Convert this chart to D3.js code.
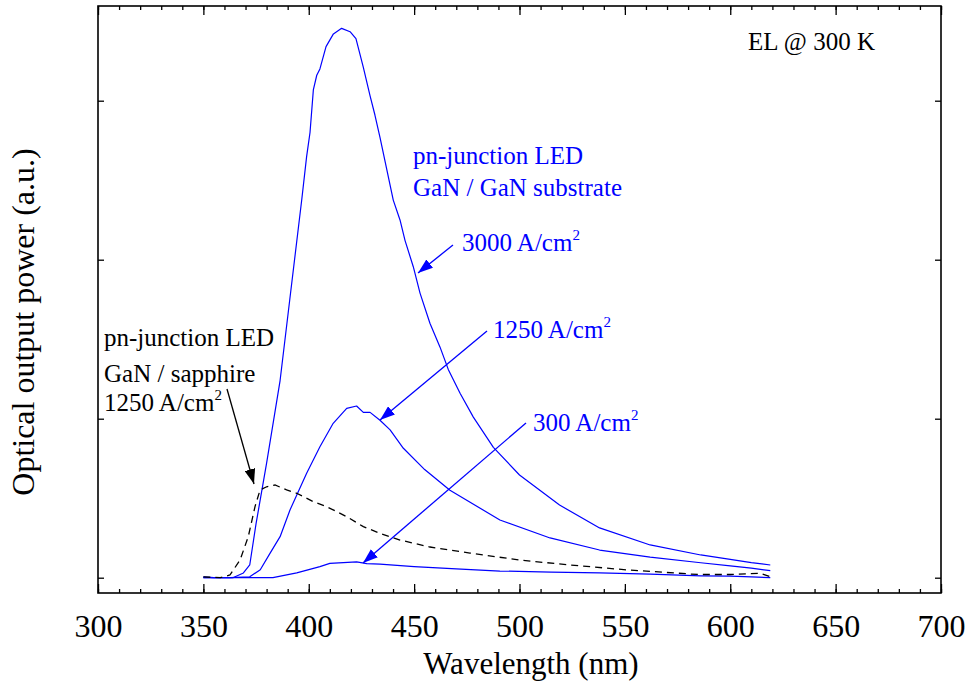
<!DOCTYPE html>
<html>
<head>
<meta charset="utf-8">
<script src="https://cdn.jsdelivr.net/npm/d3@7"></script>
<style>
  body { margin: 0; background: #fff; }
  svg text { font-family: "Liberation Serif", Tinos, "Times New Roman", Times, serif; }
</style>
</head>
<body>
<div id="chart"></div>
<script>
// data (wavelength nm, output a.u.)
var wl3000 = [350, 355, 360, 364, 369, 372, 375, 380, 386.4, 391, 396.7, 399, 400.6, 402.2, 403.8, 405.3, 408.2, 411.7, 415.6, 419.6, 422.4, 425.9, 429.1, 431.4, 433.8, 440.1, 443.3, 445.7, 449.6, 452.8, 457.5, 462.3, 466.2, 471.8, 478.1, 487.6, 500, 519, 538, 562, 586, 600, 610, 619];
var val3000 = [0.005, 0, 0, 0, 0.03, 0.08, 0.34, 0.72, 1.24, 1.75, 2.38, 2.65, 2.8, 3.07, 3.16, 3.2, 3.34, 3.42, 3.455, 3.434, 3.39, 3.21, 3.03, 2.91, 2.77, 2.375, 2.25, 2.12, 1.956, 1.79, 1.6, 1.45, 1.31, 1.16, 1.01, 0.82, 0.646, 0.457, 0.313, 0.206, 0.143, 0.115, 0.095, 0.08];

var wl1250 = [350, 362.6, 372, 377, 381.6, 386.4, 391.1, 399, 405.3, 411.6, 418, 422.7, 425.9, 429.1, 433.8, 438.6, 444.9, 455, 467, 490.7, 514.5, 538, 562, 586, 600, 610, 619];
var val1250 = [0, 0, 0.006, 0.05, 0.153, 0.258, 0.426, 0.657, 0.824, 0.971, 1.065, 1.08, 1.04, 1.04, 0.99, 0.93, 0.814, 0.68, 0.55, 0.363, 0.25, 0.174, 0.13, 0.094, 0.075, 0.06, 0.044];

var wl300 = [350, 362.6, 383, 394.3, 405.3, 410, 416.4, 422.7, 427.5, 433.8, 450, 470, 490.7, 515, 538, 562, 586, 600, 610, 619];
var val300 = [0, 0, 0, 0.03, 0.07, 0.09, 0.095, 0.1, 0.088, 0.086, 0.07, 0.055, 0.042, 0.035, 0.03, 0.022, 0.012, 0.01, 0.005, 0];

var wlSapph = [350, 358, 362.6, 367.4, 371.3, 374.5, 376.9, 380, 384, 389.5, 394.3, 402.2, 408.5, 418, 425.9, 433.8, 443.3, 457.5, 476.5, 500, 524, 552, 585, 600, 614, 619];
var valSapph = [0.005, 0, 0.017, 0.111, 0.258, 0.447, 0.552, 0.572, 0.583, 0.552, 0.531, 0.478, 0.447, 0.384, 0.321, 0.279, 0.237, 0.193, 0.155, 0.111, 0.08, 0.048, 0.02, 0.02, 0.028, 0.006];

var xMajor = [300, 350, 400, 450, 500, 550, 600, 650, 700];
var yMajor = [0, 1, 2, 3];

var serif = "'Liberation Serif', Tinos, 'Times New Roman', Times, serif";

var cwidth = 966, cheight = 687;
var margin = {top: 6, right: 25, bottom: 94, left: 98}
    , width = cwidth - margin.left - margin.right
    , height = cheight - margin.top - margin.bottom;

var xScale = d3.scaleLinear().domain([300, 700]).range([0, width]);
var yScale = d3.scaleLinear().domain([-0.0962, 3.5956]).range([height, 0]);

var valueLine = d3.line()
    .x(function(d) { return xScale(d.x); })
    .y(function(d) { return yScale(d.y); })
    .curve(d3.curveLinear);

function zipSeries(xs, ys) {
    return xs.map(function(x, i) { return {x: x, y: ys[i]}; });
}

var svg = d3.select("#chart").append("svg")
    .attr("width", cwidth)
    .attr("height", cheight)
    .attr("font-family", serif)
    .append("g")
    .attr("transform", "translate(" + margin.left + "," + margin.top + ")");

var defs = svg.append("defs");
["blue", "black"].forEach(function(c) {
    defs.append("marker")
        .attr("id", "arrow-" + c)
        .attr("viewBox", "0 -5 14 10")
        .attr("refX", 14).attr("refY", 0)
        .attr("markerUnits", "userSpaceOnUse")
        .attr("markerWidth", 15).attr("markerHeight", 11)
        .attr("orient", "auto")
        .append("path")
        .attr("d", "M0,-5L14,0L0,5Z")
        .attr("fill", c === "blue" ? "#0000ff" : "#000");
});

// minor ticks every 10 nm
var xMinor = d3.range(300, 701, 10);

function styleAxis(g) {
    g.select(".domain").remove();
    g.attr("font-family", serif);
    g.selectAll("line").attr("stroke", "#000").attr("stroke-width", 1.3);
}

svg.append("g").attr("transform", "translate(0," + height + ")")
    .call(d3.axisBottom(xScale).tickValues(xMinor).tickSize(-4).tickFormat(""))
    .call(styleAxis);
svg.append("g").attr("class", "x axis").attr("transform", "translate(0," + height + ")")
    .call(d3.axisBottom(xScale).tickValues(xMajor).tickSize(-9).tickPadding(21).tickFormat(d3.format("d")))
    .call(styleAxis)
    .selectAll("text").attr("font-size", 32).attr("fill", "#000");
svg.append("g")
    .call(d3.axisTop(xScale).tickValues(xMinor).tickSize(-4).tickFormat(""))
    .call(styleAxis);
svg.append("g")
    .call(d3.axisTop(xScale).tickValues(xMajor).tickSize(-9).tickFormat(""))
    .call(styleAxis);
svg.append("g")
    .call(d3.axisLeft(yScale).tickValues(yMajor).tickSize(-6).tickFormat(""))
    .call(styleAxis);
svg.append("g").attr("transform", "translate(" + width + ",0)")
    .call(d3.axisRight(yScale).tickValues(yMajor).tickSize(-6).tickFormat(""))
    .call(styleAxis);

svg.append("rect")
    .attr("width", width).attr("height", height)
    .attr("fill", "none").attr("stroke", "#000").attr("stroke-width", 1.6);

// curves
var blueSeries = [[wl3000, val3000], [wl1250, val1250], [wl300, val300]];
blueSeries.forEach(function(s) {
    svg.append("path")
        .datum(zipSeries(s[0], s[1]))
        .attr("d", valueLine)
        .attr("fill", "none")
        .attr("stroke", "#0000ff")
        .attr("stroke-width", 1.2)
        .attr("stroke-linejoin", "round");
});
svg.append("path")
    .datum(zipSeries(wlSapph, valSapph))
    .attr("d", valueLine)
    .attr("fill", "none")
    .attr("stroke", "#000")
    .attr("stroke-width", 1.3)
    .attr("stroke-dasharray", "7,5");

// axis titles
svg.append("text")
    .attr("text-anchor", "middle")
    .attr("x", 531 - margin.left).attr("y", height + 81)
    .attr("font-size", 31)
    .text("Wavelength (nm)");
svg.append("text")
    .attr("text-anchor", "middle")
    .attr("transform", "translate(" + (-64) + "," + (322 - margin.top) + ") rotate(-90)")
    .attr("font-size", 32)
    .text("Optical output power (a.u.)");

// annotations (positions in page pixels)
function label(x, y, txt, color, sup) {
    var t = svg.append("text")
        .attr("x", x - margin.left).attr("y", y - margin.top)
        .attr("font-size", 25)
        .attr("fill", color)
        .text(txt);
    if (sup) {
        t.append("tspan").attr("dy", -11).attr("font-size", 15).text("2");
    }
}
function arrow(x1, y1, x2, y2, color) {
    svg.append("line")
        .attr("x1", x1 - margin.left).attr("y1", y1 - margin.top)
        .attr("x2", x2 - margin.left).attr("y2", y2 - margin.top)
        .attr("stroke", color === "blue" ? "#0000ff" : "#000")
        .attr("stroke-width", 1.3)
        .attr("marker-end", "url(#arrow-" + color + ")");
}

label(748, 50, "EL @ 300 K", "#000");

label(413, 164, "pn-junction LED", "#0000ff");
label(413, 196, "GaN / GaN substrate", "#0000ff");
label(462, 251, "3000 A/cm", "#0000ff", true);
label(493, 338, "1250 A/cm", "#0000ff", true);
label(533, 431, "300 A/cm", "#0000ff", true);

label(104, 346, "pn-junction LED", "#000");
label(104, 382, "GaN / sapphire", "#000");
label(104, 411, "1250 A/cm", "#000", true);

arrow(453, 245, 418, 273, "blue");
arrow(487, 331, 380, 420, "blue");
arrow(526, 423, 363, 563, "blue");
arrow(227, 389, 254, 484, "black");
</script>
</body>
</html>
